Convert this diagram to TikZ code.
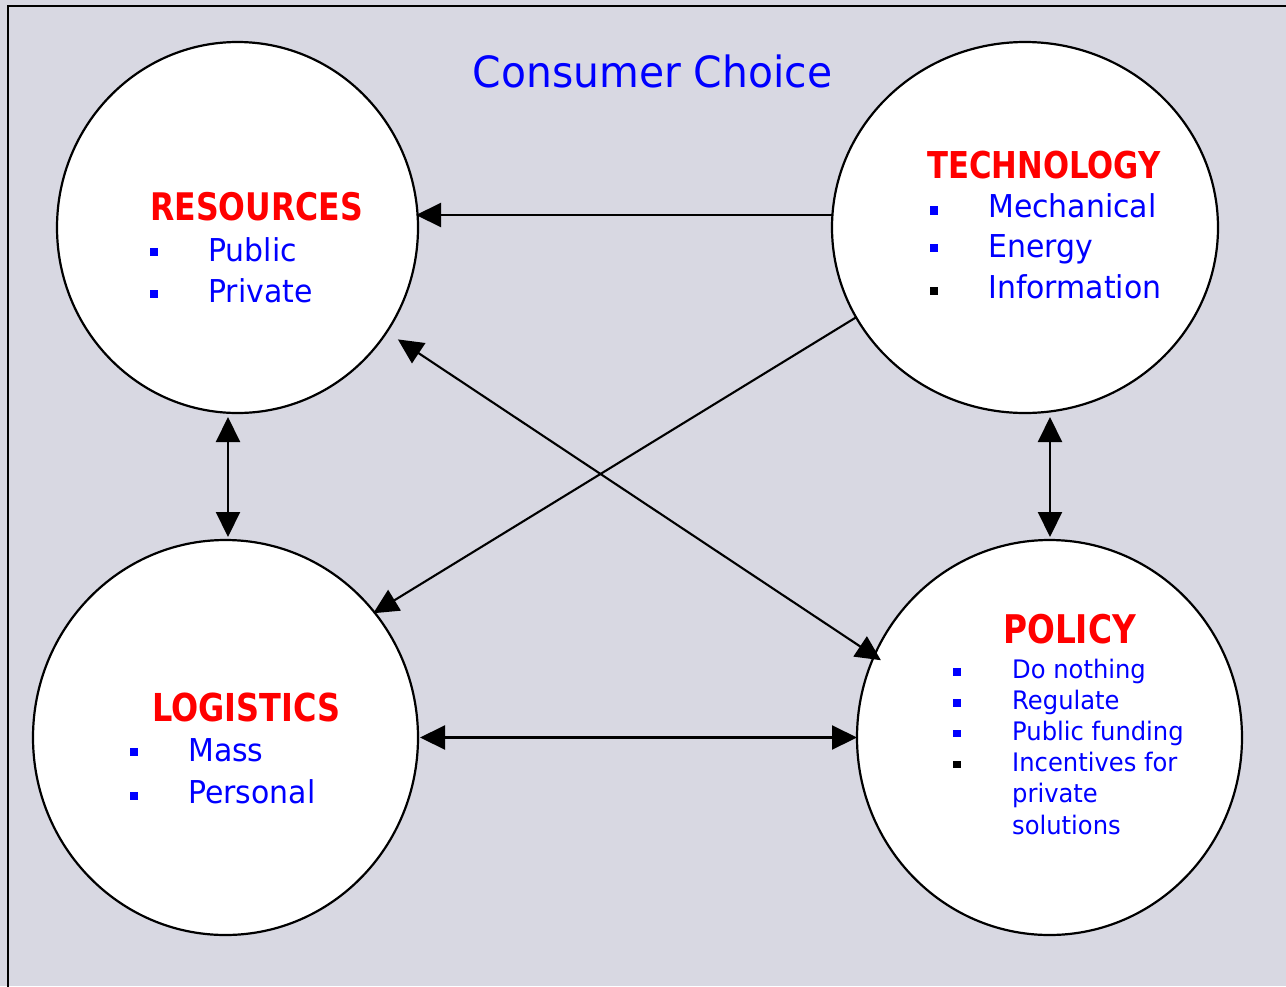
\documentclass[tikz,border=0pt]{standalone}
\usepackage{fontspec}
\newfontfamily\regf{DejaVu Sans}[FakeStretch=0.95]
\newfontfamily\boldf{DejaVu Sans}[FakeStretch=0.83]
\usetikzlibrary{arrows.meta,shapes.geometric}
\definecolor{bg}{RGB}{216,216,226}
\definecolor{tblue}{RGB}{0,0,255}
\definecolor{tred}{RGB}{255,0,0}
\begin{document}
\begin{tikzpicture}[x=1pt,y=-1pt,
  circ/.style={ellipse, draw=black, line width=2.2pt, fill=white, inner sep=0pt, outer sep=0pt},
  arr/.style={line width=2.1pt, {Triangle[length=25pt,width=24pt]}-{Triangle[length=25pt,width=24pt]}},
  arrone/.style={line width=2.1pt, -{Triangle[length=25pt,width=24pt]}},
  heading/.style={anchor=base west, text=tred, font=\boldf\bfseries\fontsize{#1}{#1}\selectfont, inner sep=0pt},
  itemtext/.style={anchor=base west, text=tblue, font=\regf\fontsize{#1}{#1}\selectfont, inner sep=0pt},
  bul/.style={fill=#1, minimum size=8.5pt, inner sep=0pt, draw=none},
  pbul/.style={fill=#1, minimum size=7.5pt, inner sep=0pt, draw=none}
]
\useasboundingbox (0,0) rectangle (1286,986);
\fill[bg] (0,0) rectangle (1286,986);
\begin{scope}
\clip (0,0) rectangle (1286,986);
\draw[line width=2.5pt] (8,6) rectangle (1320,1020);
\end{scope}

\node[text=tblue, font=\regf\fontsize{43}{43}\selectfont, anchor=base, inner sep=0pt] (title) at (652.5,87) {Consumer Choice};

\node[circ, minimum width=361pt, minimum height=371pt] (res) at (237.5,227.5) {};
\node[circ, minimum width=386pt, minimum height=371pt] (tech) at (1025,227.5) {};
\node[circ, minimum width=385pt, minimum height=395pt] (log) at (225.5,737.5) {};
\node[circ, minimum width=385pt, minimum height=395pt] (pol) at (1049.5,737.5) {};

% Resources
\node[heading=38] (resh) at (150,220) {RESOURCES};
\node[bul=tblue] (rb1) at (154,252) {};
\node[bul=tblue] (rb2) at (154,294) {};
\node[itemtext=31.5] (ri1) at (208,261) {Public};
\node[itemtext=31.5] (ri2) at (208,302) {Private};

% Technology
\node[heading=37] (techh) at (927,178) {TECHNOLOGY};
\node[bul=tblue] (tb1) at (934,210.5) {};
\node[bul=tblue] (tb2) at (934,248) {};
\node[bul=black] (tb3) at (934,291) {};
\node[itemtext=31.5] (ti1) at (988,217) {Mechanical};
\node[itemtext=31.5] (ti2) at (988,257) {Energy};
\node[itemtext=31.5] (ti3) at (988,298) {Information};

% Logistics
\node[heading=38.5] (logh) at (152,721) {LOGISTICS};
\node[bul=tblue] (lb1) at (134,752) {};
\node[bul=tblue] (lb2) at (134,796) {};
\node[itemtext=31.5] (li1) at (188,761) {Mass};
\node[itemtext=31.5] (li2) at (188,803) {Personal};

% Policy
\node[heading=39.5] (polh) at (1003,643) {POLICY};
\node[pbul=tblue] (pb1) at (957,672) {};
\node[pbul=tblue] (pb2) at (957,703) {};
\node[pbul=tblue] (pb3) at (957,733.5) {};
\node[pbul=black] (pb4) at (957,764.5) {};
\node[itemtext=25.5] (pi1) at (1012,678) {Do nothing};
\node[itemtext=25.5] (pi2) at (1012,709) {Regulate};
\node[itemtext=25.5] (pi3) at (1012,740) {Public funding};
\node[itemtext=25.5] (pi4) at (1012,771) {Incentives for};
\node[itemtext=25.5] (pi5) at (1012,802) {private};
\node[itemtext=25.5] (pi6) at (1012,834) {solutions};

% connectors
\draw[arrone, shorten >=-2pt] ([yshift=12.5pt]tech.west) -- ([yshift=12.5pt]res.east);
\draw[arr, shorten <=4pt, shorten >=3pt] ([xshift=-9.5pt]res.south) -- ([xshift=2.5pt]log.north);
\draw[arr, shorten <=4pt, shorten >=3pt] ([xshift=25pt]tech.south) -- ([xshift=0.5pt]pol.north);
\draw[arr, shorten <=2pt] (log.east) -- (pol.west);
\draw[arr, shorten <=13.5pt, shorten >=-8pt] (res.-35.55) -- (pol.155.88);
\draw[arrone, shorten >=-1.5pt] (tech.208.05) -- (log.40);
\end{tikzpicture}
\end{document}
